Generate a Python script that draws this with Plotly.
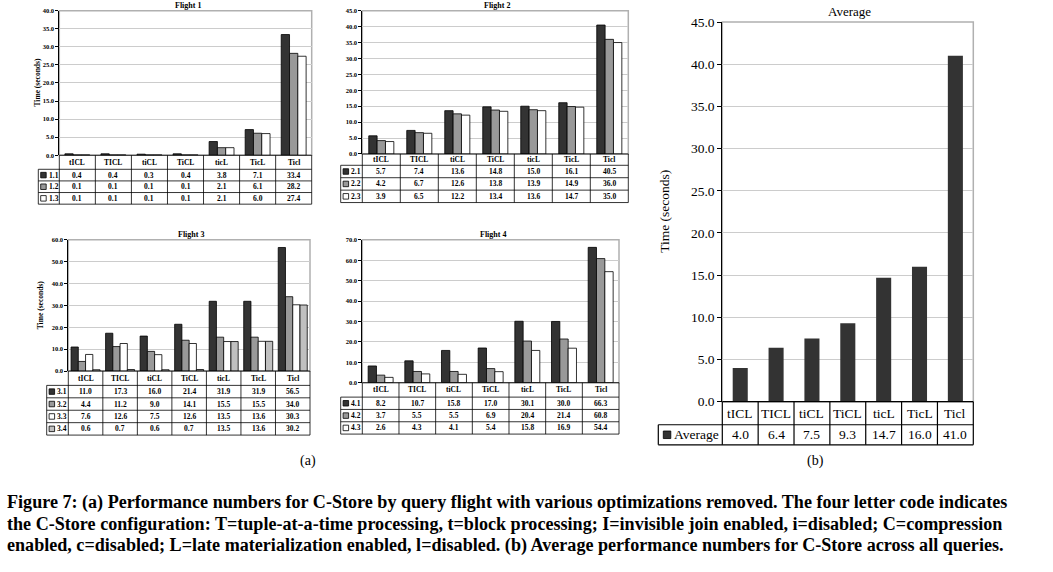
import plotly.graph_objects as go

W, H = 1053, 572
SERIF = "Liberation Serif"

categories = ["tICL", "TICL", "tiCL", "TiCL", "ticL", "TicL", "Ticl"]

# Flight 1
q1_1 = [0.4, 0.4, 0.3, 0.4, 3.8, 7.1, 33.4]
q1_2 = [0.1, 0.1, 0.1, 0.1, 2.1, 6.1, 28.2]
q1_3 = [0.1, 0.1, 0.1, 0.1, 2.1, 6.0, 27.4]

# Flight 2
q2_1 = [5.7, 7.4, 13.6, 14.8, 15.0, 16.1, 40.5]
q2_2 = [4.2, 6.7, 12.6, 13.8, 13.9, 14.9, 36.0]
q2_3 = [3.9, 6.5, 12.2, 13.4, 13.6, 14.7, 35.0]

# Flight 3
q3_1 = [11.0, 17.3, 16.0, 21.4, 31.9, 31.9, 56.5]
q3_2 = [4.4, 11.2, 9.0, 14.1, 15.5, 15.5, 34.0]
q3_3 = [7.6, 12.6, 7.5, 12.6, 13.5, 13.6, 30.3]
q3_4 = [0.6, 0.7, 0.6, 0.7, 13.5, 13.6, 30.2]

# Flight 4
q4_1 = [8.2, 10.7, 15.8, 17.0, 30.1, 30.0, 66.3]
q4_2 = [3.7, 5.5, 5.5, 6.9, 20.4, 21.4, 60.8]
q4_3 = [2.6, 4.3, 4.1, 5.4, 15.8, 16.9, 54.4]

# average over all queries
average = [4.0, 6.4, 7.5, 9.3, 14.7, 16.0, 41.0]

series_colors = ["#333333", "#999999", "#ffffff", "#c0c0c0"]

# the screenshot comes out slightly squeezed vertically, undo that
Y_OFF, Y_SCALE = 7.3, 0.972


def fx(x):
    return x / W


def fy(y):
    return 1 - ((y - Y_OFF) / Y_SCALE) / H


# geometry in pixels: plot box (left, right, top, bottom), table left edge,
# header row height, data row height
panels = [
    dict(title="Flight 1", series=[("1.1", q1_1), ("1.2", q1_2), ("1.3", q1_3)],
         box=(59.3, 311.7, 11, 155.3), left=38.3, head=14, row=11.6,
         ymax=40, dtick=5, barw=0.23, ytitle=(37.7, 83), small=True),
    dict(title="Flight 2", series=[("2.1", q2_1), ("2.2", q2_2), ("2.3", q2_3)],
         box=(362.3, 628.3, 11, 154), left=340.7, head=11.3, row=12.4,
         ymax=45, dtick=5, barw=0.22, ytitle=None, small=True),
    dict(title="Flight 3", series=[("3.1", q3_1), ("3.2", q3_2), ("3.3", q3_3), ("3.4", q3_4)],
         box=(68.3, 310, 239.7, 370.7), left=46.7, head=14.3, row=12.4,
         ymax=60, dtick=10, barw=0.21, ytitle=(40, 305), small=True),
    dict(title="Flight 4", series=[("4.1", q4_1), ("4.2", q4_2), ("4.3", q4_3)],
         box=(362.3, 619, 239.7, 382.3), left=340.7, head=14.4, row=12.3,
         ymax=70, dtick=10, barw=0.227, ytitle=None, small=True),
    dict(title="Average", series=[("Average", average)],
         box=(722.3, 973.3, 22.3, 401.3), left=658.3, head=23, row=20,
         ymax=45, dtick=5, barw=0.42, ytitle=(665, 211.7), small=False),
]

fig = go.Figure()
shapes = []
annotations = []
layout = {}

for k, p in enumerate(panels, start=1):
    suffix = "" if k == 1 else str(k)
    xa, ya = "x" + suffix, "y" + suffix
    x0, x1, yt, yb = p["box"]
    small = p["small"]
    weight = "bold" if small else "normal"
    tick_size = 6.5 if small else 13.5
    cell_size = 7.5 if small else 13.5
    line_w = 0.8 if small else 1.2

    layout["xaxis" + suffix] = dict(
        domain=[fx(x0), fx(x1)], anchor=ya, type="category",
        categoryarray=categories, range=[-0.5, 6.5],
        showticklabels=False, showgrid=False, showline=False, zeroline=False,
    )
    layout["yaxis" + suffix] = dict(
        domain=[fy(yb), fy(yt)], anchor=xa, range=[0, p["ymax"]],
        dtick=p["dtick"], tickformat=".1f", showgrid=True,
        gridcolor="#cccccc", gridwidth=1, zeroline=False,
        showline=True, linecolor="black", linewidth=1,
        ticks="outside", ticklen=3 if small else 4, tickcolor="black",
        tickfont=dict(family=SERIF, size=tick_size, color="black", weight=weight),
    )

    n = len(p["series"])
    bw = p["barw"]
    for j, (label, vals) in enumerate(p["series"]):
        fig.add_trace(go.Bar(
            x=categories, y=vals, xaxis=xa, yaxis=ya, name=label,
            width=bw, offset=-n * bw / 2 + j * bw,
            marker=dict(color=series_colors[j],
                        line=dict(color="black", width=0.8 if small else 0)),
            showlegend=False, hoverinfo="x+y",
        ))

    # grey frame around the plot area
    shapes.append(dict(type="rect", xref=xa + " domain", yref=ya + " domain",
                       x0=0, x1=1, y0=0, y1=1, layer="below",
                       line=dict(color="#b0b0b0", width=1.5)))

    # title
    annotations.append(dict(text=p["title"], xref="paper", yref="paper",
                            x=fx((x0 + x1) / 2 + 2), y=fy(yt - (5 if small else 11)),
                            showarrow=False, xanchor="center", yanchor="middle",
                            font=dict(family=SERIF, size=8 if small else 13,
                                      color="black", weight=weight)))
    if p["ytitle"]:
        tx, ty = p["ytitle"]
        annotations.append(dict(text="Time (seconds)", xref="paper", yref="paper",
                                x=fx(tx), y=fy(ty), textangle=-90, showarrow=False,
                                xanchor="center", yanchor="middle",
                                font=dict(family=SERIF, size=7.5 if small else 13.5,
                                          color="black", weight=weight)))

    # data table under the plot
    colw = (x1 - x0) / len(categories)
    rows_bottom = [yb + p["head"] + p["row"] * (r + 1) for r in range(n)]
    tbot = rows_bottom[-1]
    hline = dict(color="black", width=line_w)
    shapes.append(dict(type="line", xref="paper", yref="paper",
                       x0=fx(x0), x1=fx(x1), y0=fy(yb), y1=fy(yb), line=hline))
    for yy in [yb + p["head"]] + rows_bottom:
        shapes.append(dict(type="line", xref="paper", yref="paper",
                           x0=fx(p["left"]), x1=fx(x1), y0=fy(yy), y1=fy(yy), line=hline))
    for i in range(len(categories) + 1):
        xx = x0 + i * colw
        shapes.append(dict(type="line", xref="paper", yref="paper",
                           x0=fx(xx), x1=fx(xx), y0=fy(yb), y1=fy(tbot), line=hline))
    shapes.append(dict(type="line", xref="paper", yref="paper",
                       x0=fx(p["left"]), x1=fx(p["left"]),
                       y0=fy(yb + p["head"]), y1=fy(tbot), line=hline))

    cell_font = dict(family=SERIF, size=cell_size, color="black", weight=weight)
    for i, cat in enumerate(categories):
        annotations.append(dict(text=cat, xref=xa, yref="paper", x=cat,
                                y=fy(yb + p["head"] / 2), showarrow=False,
                                xanchor="center", yanchor="middle", font=cell_font))
    for j, (label, vals) in enumerate(p["series"]):
        ymid = yb + p["head"] + p["row"] * (j + 0.5)
        for cat, v in zip(categories, vals):
            annotations.append(dict(text="%.1f" % v, xref=xa, yref="paper", x=cat,
                                    y=fy(ymid), showarrow=False, xanchor="center",
                                    yanchor="middle", font=cell_font))
        sq = 5.5 if small else 7.5
        sx = p["left"] + (2.4 if small else 5)
        shapes.append(dict(type="rect", xref="paper", yref="paper",
                           x0=fx(sx), x1=fx(sx + sq),
                           y0=fy(ymid - sq / 2), y1=fy(ymid + sq / 2),
                           fillcolor=series_colors[j],
                           line=dict(color="black", width=0.8)))
        annotations.append(dict(text=label, xref="paper", yref="paper",
                                x=fx(sx + sq + 0.8), y=fy(ymid), xanchor="left",
                                yanchor="middle", showarrow=False, font=cell_font))

# sub-figure labels
for lab, x, y in [("(a)", 308, 460), ("(b)", 815, 460)]:
    annotations.append(dict(text=lab, xref="paper", yref="paper", x=fx(x), y=fy(y),
                            showarrow=False, xanchor="center", yanchor="middle",
                            font=dict(family=SERIF, size=14, color="black")))

caption = [
    "Figure 7: (a) Performance numbers for C-Store by query flight with various optimizations removed. The four letter code indicates",
    "the C-Store configuration: T=tuple-at-a-time processing, t=block processing; I=invisible join enabled, i=disabled; C=compression",
    "enabled, c=disabled; L=late materialization enabled, l=disabled. (b) Average performance numbers for C-Store across all queries.",
]
for line, y in zip(caption, [502, 523.5, 545]):
    annotations.append(dict(text=line, xref="paper", yref="paper", x=fx(5), y=fy(y),
                            xanchor="left", yanchor="middle", showarrow=False,
                            font=dict(family=SERIF, size=18.1, color="black", weight="bold")))

fig.update_layout(
    width=W, height=H, margin=dict(l=0, r=0, t=0, b=0),
    paper_bgcolor="white", plot_bgcolor="white",
    barmode="overlay", showlegend=False,
    shapes=shapes, annotations=annotations, **layout,
)

# no page margin or scrollbars around the fixed-size figure
fig.write_html(
    "out.html",
    config={"displayModeBar": False},
    post_script="document.body.style.margin = '0';"
                "document.body.style.overflow = 'hidden';"
                "document.documentElement.style.overflow = 'hidden';",
)
